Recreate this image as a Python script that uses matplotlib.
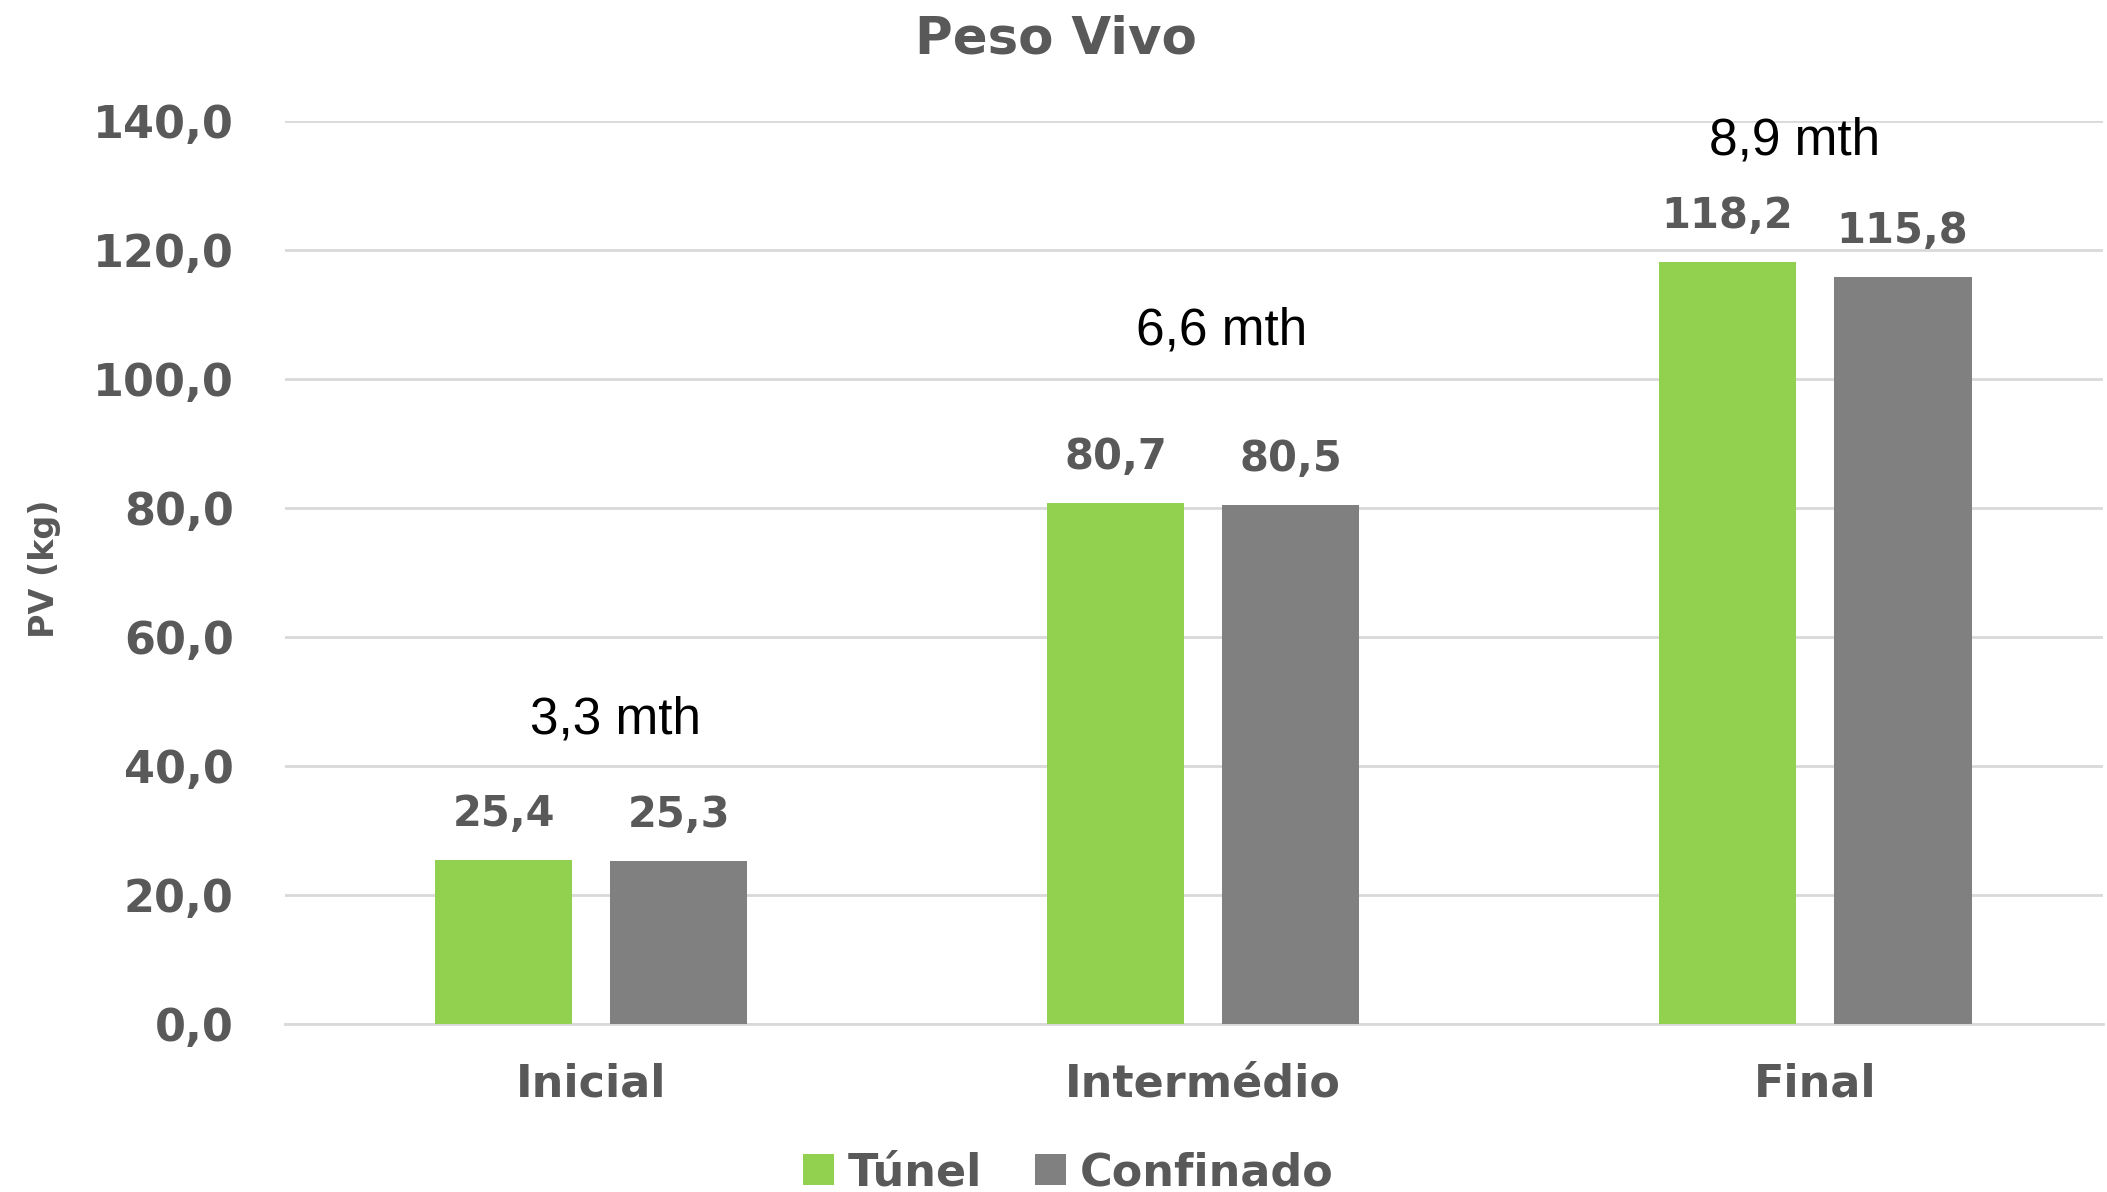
import matplotlib
matplotlib.use("Agg")
import matplotlib.pyplot as plt
import numpy as np

# dados do gráfico
fases = ["Inicial", "Intermédio", "Final"]
tunel = [25.4, 80.7, 118.2]
confinado = [25.3, 80.5, 115.8]
idades = ["3,3 mth", "6,6 mth", "8,9 mth"]
idade_y = [47.1, 107.5, 136.9]
idade_dx = [0.04, 1.03, 1.967]
yticks = [0, 20, 40, 60, 80, 100, 120, 140]

verde = "#92D050"
cinza = "#808080"
texto = "#595959"
grade = "#D9D9D9"

fig = plt.figure(figsize=(21.07, 11.92), dpi=100)
ax = fig.add_axes([0.1353, 0.1409, 0.8627, 0.7576])

x = np.arange(len(fases))
w = 0.225
off = 0.143
b1 = ax.bar(x - off, tunel, w, color=verde, label="Túnel", zorder=3)
b2 = ax.bar(x + off, confinado, w, color=cinza, label="Confinado", zorder=3)

# rótulos de valor
for barras in (b1, b2):
    for r in barras:
        v = r.get_height()
        ax.annotate(f"{v:.1f}".replace(".", ","),
                    (r.get_x() + r.get_width() / 2, v),
                    xytext=(0, 18), textcoords="offset points",
                    ha="center", va="bottom", fontsize=30,
                    fontweight="bold", color=texto)

# idades
for t, xx, yy in zip(idades, idade_dx, idade_y):
    ax.text(xx, yy, t, ha="center", va="center", fontsize=37,
            family="Liberation Sans", color="black")

ax.set_xlim(-0.5, 2.47)
ax.set_ylim(0, 140)
ax.set_yticks(yticks)
ax.set_yticklabels([f"{v:.1f}".replace(".", ",") for v in yticks])
ax.set_xticks(x)
ax.set_xticklabels(fases)
ax.tick_params(axis="both", length=0, labelsize=32, labelcolor=texto)
ax.tick_params(axis="y", pad=37)
ax.tick_params(axis="x", pad=28)
for lab in ax.get_xticklabels() + ax.get_yticklabels():
    lab.set_fontweight("bold")

ax.yaxis.grid(True, color=grade, linewidth=2, zorder=0)
for s in ["top", "right", "left"]:
    ax.spines[s].set_visible(False)
ax.spines["bottom"].set_color(grade)
ax.spines["bottom"].set_linewidth(2)

fig.text(0.021, 0.523, "PV (kg)", rotation=90, ha="center", va="center",
         fontsize=24, fontweight="bold", color=texto)
fig.text(0.501, 0.967, "Peso Vivo", ha="center", va="center",
         fontsize=37, fontweight="bold", color=texto)

leg = fig.legend(loc="center", bbox_to_anchor=(0.507, 0.016), ncol=2,
                 frameon=False, fontsize=32, handlelength=0.7,
                 handleheight=0.7, handletextpad=0.3, columnspacing=1.2)
for t in leg.get_texts():
    t.set_color(texto)
    t.set_fontweight("bold")

fig.savefig("out.png", dpi=100)
